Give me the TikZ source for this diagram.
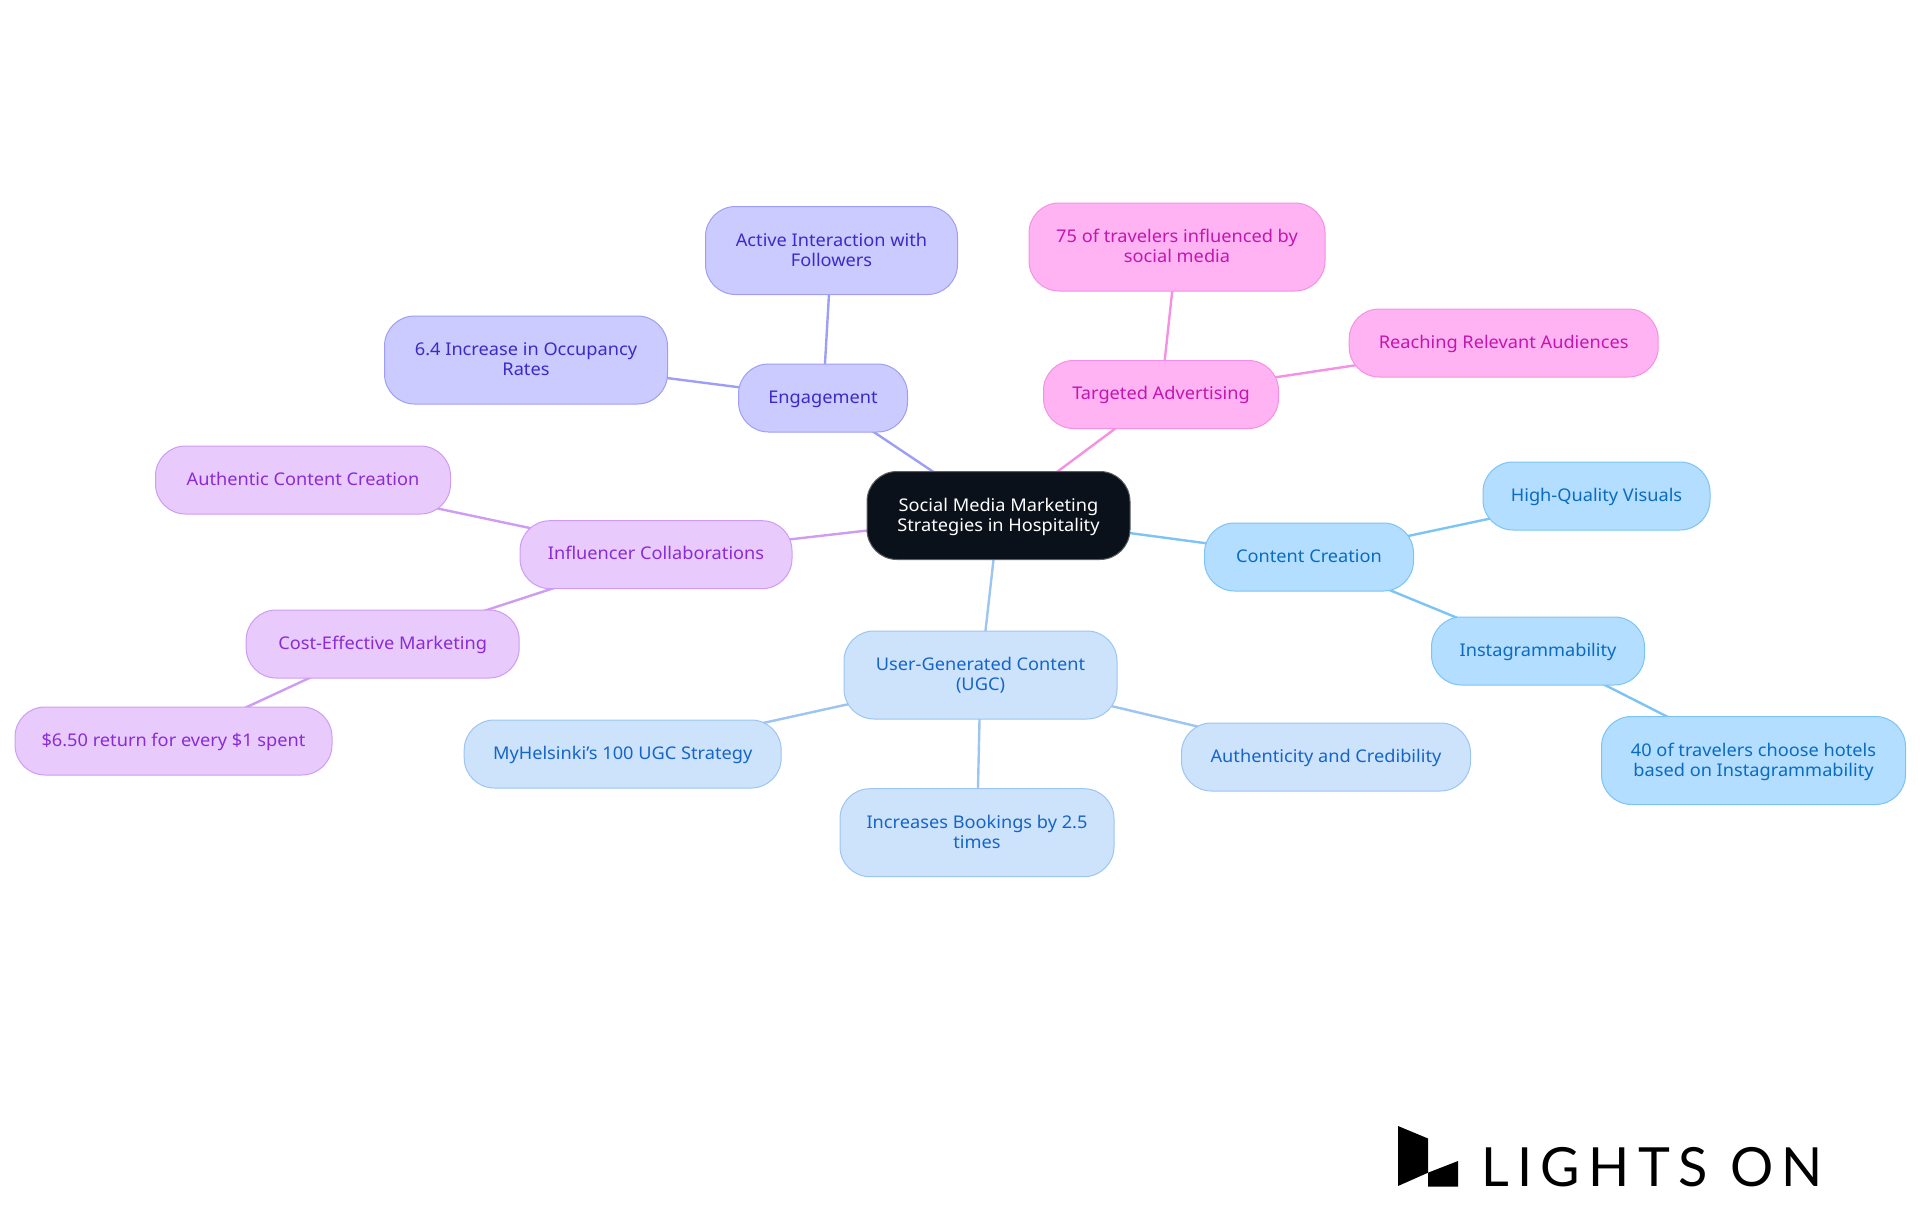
\documentclass[tikz,border=0pt]{standalone}
\usepackage{fontspec}
\setmainfont[FakeStretch=1.04]{Noto Sans}
\newfontfamily\logofont[LetterSpace=15.6]{Lato}
\usetikzlibrary{backgrounds}
\newcommand{\onelabel}[1]{\rule[-5pt]{0pt}{20pt}#1}
\newcommand{\twolabel}[2]{\rule{0pt}{16pt}#1\\#2\rule[-5pt]{0pt}{5pt}}
\definecolor{rootfill}{HTML}{0B111A}
\definecolor{cfill}{HTML}{B3DEFF}\definecolor{cline}{HTML}{7CC4F5}\definecolor{ctext}{HTML}{0B6BBF}
\definecolor{ufill}{HTML}{CDE3FC}\definecolor{uline}{HTML}{9CC5F2}\definecolor{utext}{HTML}{1565C8}
\definecolor{ifill}{HTML}{E8CBFC}\definecolor{iline}{HTML}{CE9CF2}\definecolor{itext}{HTML}{8A2BD6}
\definecolor{efill}{HTML}{CBCBFF}\definecolor{eline}{HTML}{9E9EF7}\definecolor{etext}{HTML}{3A2BC8}
\definecolor{tfill}{HTML}{FFB3F3}\definecolor{tline}{HTML}{F590E3}\definecolor{ttext}{HTML}{C415AE}
\tikzset{
  pill/.style={draw,rounded corners=30pt,line width=1pt,inner sep=0pt,align=center,
    font=\fontsize{17.5}{20}\selectfont},
  rootbox/.style={pill,fill=rootfill,draw=gray!70!rootfill,text=white},
  cbox/.style={pill,fill=cfill,draw=cline,text=ctext},
  ubox/.style={pill,fill=ufill,draw=uline,text=utext},
  ibox/.style={pill,fill=ifill,draw=iline,text=itext},
  ebox/.style={pill,fill=efill,draw=eline,text=etext},
  tbox/.style={pill,fill=tfill,draw=tline,text=ttext},
  link/.style={line width=2.4pt},
  one/.style={minimum height=68pt},
  two/.style={minimum height=88pt}
}
\begin{document}
\begin{tikzpicture}[x=1pt,y=-1pt]
\useasboundingbox (0,0) rectangle (1920,1215);
\node[rootbox,two,minimum width=263pt] (root) at (998.5,515.5) {\twolabel{Social Media Marketing}{Strategies in Hospitality}};
\node[ebox,one,minimum width=169pt] (eng) at (823,398) {\onelabel{Engagement}};
\node[ebox,two,minimum width=252pt] (active) at (831.5,250.5) {\twolabel{Active Interaction with}{Followers}};
\node[ebox,two,minimum width=283pt] (occ) at (526,360) {\twolabel{6.4 Increase in Occupancy}{Rates}};
\node[tbox,one,minimum width=235pt] (targ) at (1161,394.5) {\onelabel{Targeted Advertising}};
\node[tbox,two,minimum width=296pt] (seven) at (1177,247) {\twolabel{75 of travelers influenced by}{social media}};
\node[tbox,one,minimum width=309pt] (reach) at (1503.7,343) {\onelabel{Reaching Relevant Audiences}};
\node[cbox,one,minimum width=209pt] (cont) at (1309,557) {\onelabel{Content Creation}};
\node[cbox,one,minimum width=227pt] (high) at (1596.5,496) {\onelabel{High-Quality Visuals}};
\node[cbox,one,minimum width=213pt] (insta) at (1538,651) {\onelabel{Instagrammability}};
\node[cbox,two,minimum width=304pt] (forty) at (1753.5,760.5) {\twolabel{40 of travelers choose hotels}{based on Instagrammability}};
\node[ubox,two,minimum width=273pt] (ugc) at (980.5,675) {\twolabel{User-Generated Content}{(UGC)}};
\node[ubox,one,minimum width=317pt] (hel) at (622.7,754) {\onelabel{MyHelsinki's 100 UGC Strategy}};
\node[ubox,two,minimum width=274pt] (book) at (977,832.7) {\twolabel{Increases Bookings by 2.5}{times}};
\node[ubox,one,minimum width=289pt] (cred) at (1326,757) {\onelabel{Authenticity and Credibility}};
\node[ibox,one,minimum width=272pt] (infl) at (656,554.7) {\onelabel{Influencer Collaborations}};
\node[ibox,one,minimum width=295pt] (auth) at (303,480) {\onelabel{Authentic Content Creation}};
\node[ibox,one,minimum width=273pt] (cost) at (382.7,644) {\onelabel{Cost-Effective Marketing}};
\node[ibox,one,minimum width=317pt] (ret) at (173.5,741) {\onelabel{\$6.50 return for every \$1 spent}};
\begin{scope}[on background layer]
\draw[link,eline] (root.center)--(eng.center) (eng.center)--(active.center) (eng.center)--(occ.center);
\draw[link,tline] (root.center)--(targ.center) (targ.center)--(seven.center) (targ.center)--(reach.center);
\draw[link,cline] (root.center)--(cont.center) (cont.center)--(high.center) (cont.center)--(insta.center) (insta.center)--(forty.center);
\draw[link,uline] (root.center)--(ugc.center) (ugc.center)--(hel.center) (ugc.center)--(book.center) (ugc.center)--(cred.center);
\draw[link,iline] (root.center)--(infl.center) (infl.center)--(auth.center) (infl.center)--(cost.center) (cost.center)--(ret.center);
\end{scope}
\fill[black] (1398,1126)--(1428,1138.5)--(1428,1172.7)--(1398,1186)--cycle;
\fill[black] (1428,1172.7)--(1458,1161)--(1458,1186.5)--(1428,1186.5)--cycle;
\node[inner sep=0pt,anchor=base west,font=\logofont\fontsize{54}{54}\selectfont] (logo) at (1481,1186) {LIGHTS ON};
\end{tikzpicture}
\end{document}
